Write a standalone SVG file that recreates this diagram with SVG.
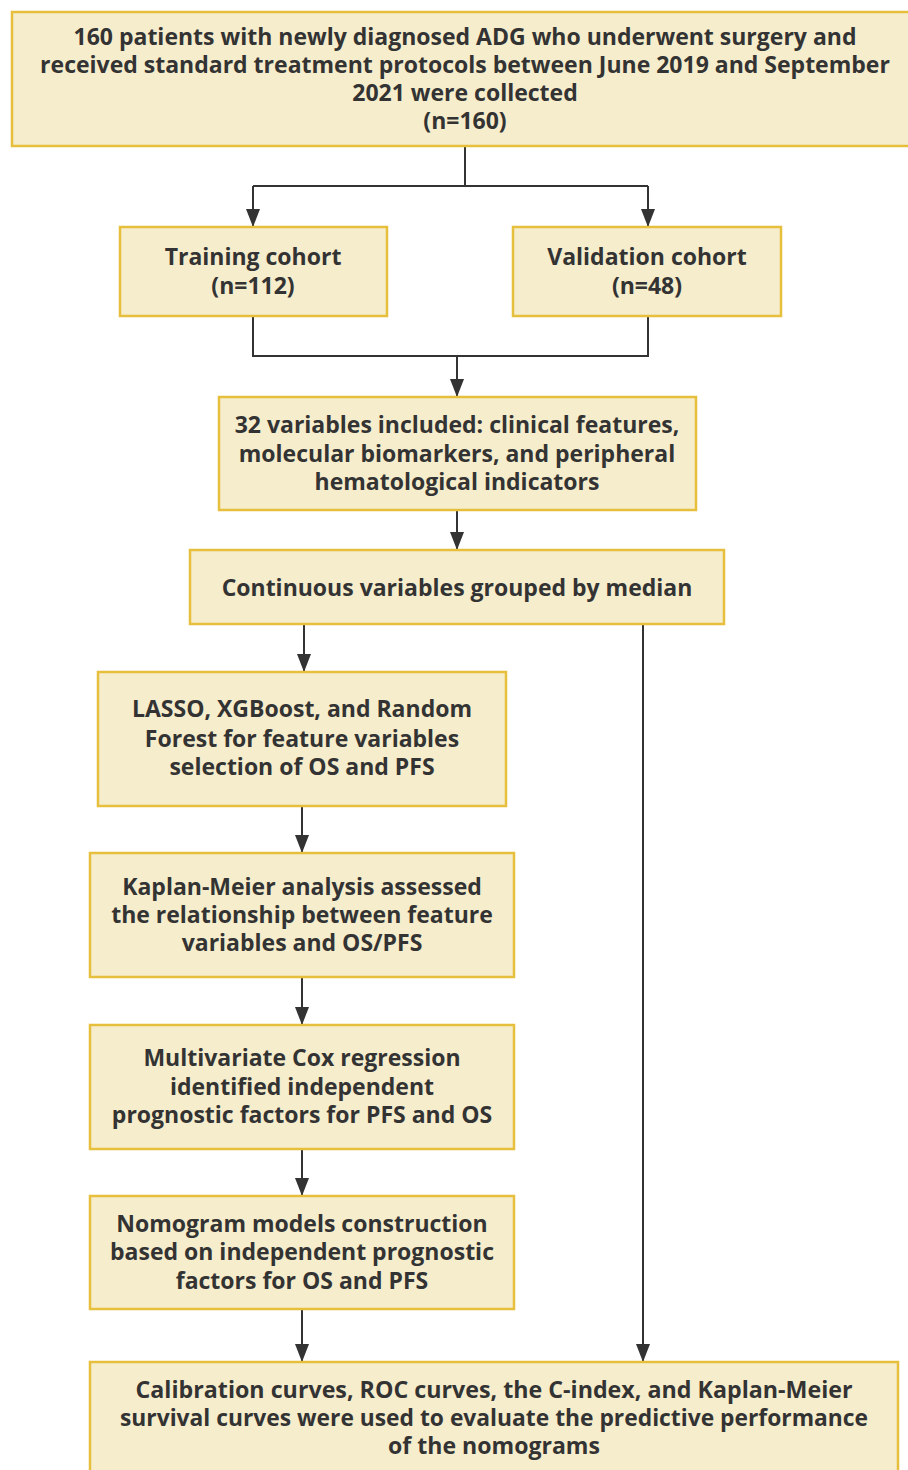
<svg xmlns="http://www.w3.org/2000/svg" width="908" height="1470" viewBox="0 0 908 1470">
<defs>
<marker id="arr" markerWidth="18" markerHeight="14" refX="18" refY="7" orient="auto" markerUnits="userSpaceOnUse" viewBox="0 0 18 14">
<path d="M0,0 L18,7 L0,14 Z" fill="#333"/>
</marker>
<style>
.box{fill:#f6edcc;stroke:#e6c03c;stroke-width:2.5}
.t{font-family:"Open Sans","Liberation Sans",sans-serif;font-weight:700;font-size:23px;fill:#333;text-anchor:middle}
.c{fill:none;stroke:#333;stroke-width:2}
</style>
</defs>
<rect width="908" height="1470" fill="#fff"/>
<g id="connectors">
<path class="c" d="M465,146 V186"/>
<path class="c" d="M253,186 H648"/>
<path class="c" d="M253,186 V227" marker-end="url(#arr)"/>
<path class="c" d="M648,186 V227" marker-end="url(#arr)"/>
<path class="c" d="M253,316 V356 H648 V316"/>
<path class="c" d="M457,356 V397" marker-end="url(#arr)"/>
<path class="c" d="M457,510 V550" marker-end="url(#arr)"/>
<path class="c" d="M304,624 V672" marker-end="url(#arr)"/>
<path class="c" d="M643,624 V1362" marker-end="url(#arr)"/>
<path class="c" d="M302,806 V853" marker-end="url(#arr)"/>
<path class="c" d="M302,977 V1025" marker-end="url(#arr)"/>
<path class="c" d="M302,1149 V1196" marker-end="url(#arr)"/>
<path class="c" d="M302,1309 V1362" marker-end="url(#arr)"/>
</g>
<g id="n1">
<rect class="box" x="12" y="12" width="900" height="134"/>
<text class="t" x="465" y="45">160 patients with newly diagnosed ADG who underwent surgery and</text>
<text class="t" x="465" y="73">received standard treatment protocols between June 2019 and September</text>
<text class="t" x="465" y="101">2021 were collected</text>
<text class="t" x="465" y="129">(n=160)</text>
</g>
<g id="n2">
<rect class="box" x="120" y="227" width="267" height="89"/>
<text class="t" x="253" y="265">Training cohort</text>
<text class="t" x="253" y="294">(n=112)</text>
</g>
<g id="n3">
<rect class="box" x="513" y="227" width="268" height="89"/>
<text class="t" x="647" y="265">Validation cohort</text>
<text class="t" x="647" y="294">(n=48)</text>
</g>
<g id="n4">
<rect class="box" x="219" y="397" width="477" height="113"/>
<text class="t" x="457" y="433">32 variables included: clinical features,</text>
<text class="t" x="457" y="462">molecular biomarkers, and peripheral</text>
<text class="t" x="457" y="490">hematological indicators</text>
</g>
<g id="n5">
<rect class="box" x="190" y="550" width="534" height="74"/>
<text class="t" x="457" y="596">Continuous variables grouped by median</text>
</g>
<g id="n6">
<rect class="box" x="98" y="672" width="408" height="134"/>
<text class="t" x="302" y="717">LASSO, XGBoost, and Random</text>
<text class="t" x="302" y="747">Forest for feature variables</text>
<text class="t" x="302" y="775">selection of OS and PFS</text>
</g>
<g id="n7">
<rect class="box" x="90" y="853" width="424" height="124"/>
<text class="t" x="302" y="895">Kaplan-Meier analysis assessed</text>
<text class="t" x="302" y="923">the relationship between feature</text>
<text class="t" x="302" y="951">variables and OS/PFS</text>
</g>
<g id="n8">
<rect class="box" x="90" y="1025" width="424" height="124"/>
<text class="t" x="302" y="1066">Multivariate Cox regression</text>
<text class="t" x="302" y="1095">identified independent</text>
<text class="t" x="302" y="1123">prognostic factors for PFS and OS</text>
</g>
<g id="n9">
<rect class="box" x="90" y="1196" width="424" height="113"/>
<text class="t" x="302" y="1232">Nomogram models construction</text>
<text class="t" x="302" y="1260">based on independent prognostic</text>
<text class="t" x="302" y="1289">factors for OS and PFS</text>
</g>
<g id="n10">
<rect class="box" x="90" y="1362" width="808" height="120"/>
<text class="t" x="494" y="1398" textLength="717" lengthAdjust="spacingAndGlyphs">Calibration curves, ROC curves, the C-index, and Kaplan-Meier</text>
<text class="t" x="494" y="1426" textLength="748" lengthAdjust="spacingAndGlyphs">survival curves were used to evaluate the predictive performance</text>
<text class="t" x="494" y="1454" textLength="212" lengthAdjust="spacingAndGlyphs">of the nomograms</text>
</g>
</svg>
